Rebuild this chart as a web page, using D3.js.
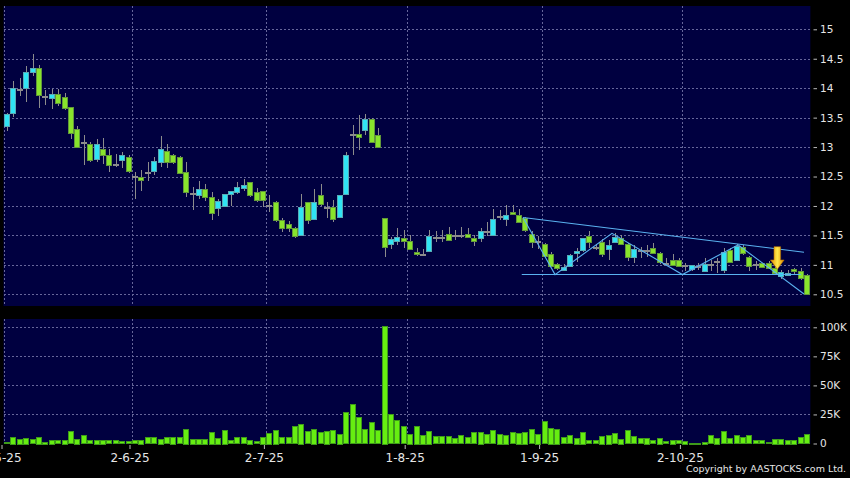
<!DOCTYPE html>
<html>
<head>
<meta charset="utf-8">
<script src="https://cdn.jsdelivr.net/npm/d3@7"></script>
<style>
  body { margin: 0; background: #000; }
  svg { display: block; }
</style>
</head>
<body>
<svg width="850" height="478"></svg>
<script>
// trading days, d-m-yy
var dates = [
  "2-5-25","6-5-25","7-5-25","8-5-25","9-5-25","12-5-25","13-5-25","14-5-25","15-5-25","16-5-25",
  "19-5-25","20-5-25","21-5-25","22-5-25","23-5-25","26-5-25","27-5-25","28-5-25","29-5-25","30-5-25",
  "2-6-25","3-6-25","4-6-25","5-6-25","6-6-25","9-6-25","10-6-25","11-6-25","12-6-25","13-6-25",
  "16-6-25","17-6-25","18-6-25","19-6-25","20-6-25","23-6-25","24-6-25","25-6-25","26-6-25","27-6-25","30-6-25",
  "2-7-25","3-7-25","4-7-25","7-7-25","8-7-25","9-7-25","10-7-25","11-7-25","14-7-25","15-7-25",
  "16-7-25","17-7-25","18-7-25","21-7-25","22-7-25","23-7-25","24-7-25","25-7-25","28-7-25","29-7-25","30-7-25","31-7-25",
  "1-8-25","4-8-25","5-8-25","6-8-25","7-8-25","8-8-25","11-8-25","12-8-25","13-8-25","14-8-25",
  "15-8-25","18-8-25","19-8-25","20-8-25","21-8-25","22-8-25","25-8-25","26-8-25","27-8-25","28-8-25","29-8-25",
  "1-9-25","2-9-25","3-9-25","4-9-25","5-9-25","8-9-25","9-9-25","10-9-25","11-9-25","12-9-25",
  "15-9-25","16-9-25","17-9-25","18-9-25","19-9-25","22-9-25","23-9-25","24-9-25","25-9-25","26-9-25","29-9-25","30-9-25",
  "2-10-25","3-10-25","6-10-25","8-10-25","9-10-25","10-10-25","13-10-25","14-10-25","15-10-25","16-10-25",
  "17-10-25","20-10-25","21-10-25","22-10-25","23-10-25","24-10-25","27-10-25","28-10-25","30-10-25","31-10-25"];

var open = [13.35,13.57,13.99,14.00,14.28,14.35,13.87,13.83,13.90,13.85,
  13.68,13.30,13.08,13.06,12.79,12.97,12.86,12.72,12.77,12.84,
  12.51,12.50,12.57,12.60,12.75,12.94,12.86,12.84,12.57,12.22,
  12.18,12.28,12.15,11.96,11.99,12.20,12.24,12.30,12.40,12.23,
  12.25,12.02,12.07,11.76,11.69,11.63,11.52,12.06,11.77,12.18,
  11.98,11.99,11.81,12.20,13.23,13.23,13.29,13.48,13.21,11.79,
  11.35,11.40,11.46,11.41,11.22,11.18,11.24,11.47,11.48,11.53,
  11.50,11.51,11.52,11.46,11.45,11.57,11.51,11.83,11.78,11.90,
  11.85,11.80,11.53,11.41,11.36,11.19,11.02,10.92,10.98,11.20,
  11.25,11.49,11.31,11.39,11.27,11.38,11.45,11.35,11.14,11.25,
  11.26,11.28,11.20,11.04,11.09,11.09,10.99,10.92,10.98,10.90,
  11.01,11.06,10.90,11.25,11.09,11.31,11.14,11.01,11.04,11.04,
  10.95,10.81,10.83,10.93,10.89,10.83];

var high = [13.58,14.12,14.18,14.37,14.58,14.39,13.97,13.99,13.98,13.91,
  13.68,13.35,13.21,13.08,13.13,13.15,12.96,12.89,12.91,12.87,
  12.57,12.61,12.74,12.84,13.19,13.05,12.88,12.85,12.74,12.33,
  12.42,12.37,12.24,12.11,12.21,12.26,12.41,12.46,12.41,12.30,
  12.25,12.19,12.08,11.79,11.75,11.65,12.20,12.07,12.28,12.37,
  12.07,12.10,12.19,12.92,13.38,13.55,13.56,13.49,13.33,11.79,
  11.47,11.62,11.59,11.51,11.29,11.27,11.59,11.57,11.59,11.65,
  11.59,11.64,11.62,11.50,11.63,11.73,11.95,11.94,12.02,12.02,
  11.95,11.81,11.57,11.49,11.37,11.22,11.03,11.01,11.18,11.28,
  11.46,11.57,11.36,11.44,11.42,11.54,11.51,11.37,11.34,11.31,
  11.33,11.37,11.21,11.12,11.19,11.11,11.03,11.00,11.03,11.11,
  11.08,11.11,11.28,11.28,11.35,11.33,11.15,11.06,11.04,11.06,
  10.97,10.91,10.91,10.94,10.94,10.85];

var low = [13.28,13.51,13.86,13.76,14.20,13.67,13.72,13.64,13.70,13.63,
  13.13,12.98,12.69,12.75,12.75,12.71,12.57,12.67,12.64,12.56,
  12.12,12.26,12.43,12.53,12.67,12.64,12.71,12.56,12.15,11.93,
  12.12,12.09,11.76,11.83,11.98,12.00,12.20,12.26,12.15,12.06,
  11.98,11.90,11.72,11.56,11.56,11.45,11.51,11.69,11.76,12.00,
  11.79,11.73,11.79,12.19,12.87,12.95,13.20,13.08,13.00,11.14,
  11.27,11.34,11.28,11.26,11.15,11.15,11.22,11.39,11.39,11.41,
  11.42,11.45,11.45,11.32,11.39,11.49,11.50,11.76,11.66,11.84,
  11.72,11.56,11.28,11.27,11.15,10.96,10.92,10.90,10.97,11.05,
  11.22,11.28,11.25,11.14,11.08,11.37,11.34,11.06,11.03,11.11,
  11.14,11.19,11.02,11.00,11.00,10.98,10.89,10.90,10.91,10.89,
  10.89,10.86,10.87,11.03,11.08,11.17,10.89,10.91,10.97,10.95,
  10.86,10.76,10.81,10.83,10.75,10.50];

var close = [13.56,14.00,13.99,14.27,14.35,13.89,13.87,13.90,13.74,13.66,
  13.23,13.00,13.08,12.79,13.05,12.87,12.69,12.72,12.86,12.60,
  12.51,12.45,12.57,12.77,12.97,12.75,12.74,12.57,12.23,12.22,
  12.28,12.15,11.88,12.08,12.20,12.25,12.32,12.35,12.18,12.10,
  12.09,12.02,11.76,11.63,11.63,11.50,11.99,11.75,12.06,12.03,
  11.98,11.79,12.18,12.87,13.23,13.18,13.48,13.09,13.00,11.30,
  11.44,11.47,11.41,11.28,11.18,11.18,11.49,11.47,11.48,11.43,
  11.50,11.51,11.47,11.41,11.57,11.57,11.78,11.83,11.85,11.86,
  11.73,11.59,11.39,11.41,11.16,10.98,10.95,10.97,11.17,11.24,
  11.45,11.39,11.31,11.18,11.34,11.47,11.35,11.13,11.27,11.25,
  11.26,11.20,11.04,11.04,11.01,10.99,10.99,10.99,10.98,11.02,
  11.01,11.06,11.21,11.04,11.32,11.20,10.99,11.01,10.98,10.96,
  10.87,10.88,10.87,10.89,10.77,10.51];

var volume = [1000,5700,4000,4900,3700,6000,1700,3400,2900,3400,
  10600,4000,7200,2600,3400,3200,2900,2600,2000,2000,
  2600,3200,5200,5200,4000,5200,5700,5200,12900,4300,
  4300,4300,10000,4900,12000,2600,5500,5500,3400,2000,
  5700,9200,12000,5200,5200,15000,17200,10600,12900,9500,
  10900,11200,8600,27000,33900,22400,12400,18100,11500,101400,
  25300,20100,14700,8600,15200,7500,10900,6300,6300,6300,
  4600,6900,5500,9500,10000,8000,11200,8600,7500,9500,
  9200,10000,12400,8600,19300,13500,12900,5500,7200,4900,
  10000,2900,2900,6600,7500,8900,4000,11200,6300,4600,
  4900,2900,4900,2000,3400,2600,2300,600,300,1400,
  6900,4900,10600,4600,6900,5500,6900,2900,2600,1100,
  4000,4000,3200,3400,5500,7800];

var dateTicks = ["2-5-25","2-6-25","2-7-25","1-8-25","1-9-25","2-10-25"];
var priceTicks = [10.5, 11, 11.5, 12, 12.5, 13, 13.5, 14, 14.5, 15];
var volumeTicks = [0, 25000, 50000, 75000, 100000];

// drawn annotations: [bar index, price]
var zigzag = [[80.6, 11.805], [85.6, 10.835], [94.5, 11.536], [105.5, 10.835], [114.2, 11.34], [124.5, 10.506]];
var upperLine = [[80.6, 11.805], [124.5, 11.214]];
var supportLine = [[80.4, 10.835], [124.0, 10.835]];
var arrowIdx = 120;

var svg = d3.select("svg");
var n = dates.length;
var left = 4, right = 810.4;
var pTop = 6, pBottom = 306, vTop = 319, vBottom = 443.5;

var x = d3.scaleLinear().domain([0, n]).range([left, right]);
var cx = function(i) { return x(i) + 3; };

var yP = d3.scaleLinear().domain([10.5, 15]).range([294.3, 29.3]);
var yV = d3.scaleLinear().domain([0, 100000]).range([vBottom, 327.3]);

var gridColor = "#66669a", textColor = "#e6e6e6";
var font = "DejaVu Sans, Verdana, sans-serif";

svg.append("rect").attr("width", 850).attr("height", 478).attr("fill", "#000");
svg.append("rect").attr("x", left - 0.5).attr("y", pTop).attr("width", right - left + 0.5).attr("height", pBottom - pTop).attr("fill", "#000040");
svg.append("rect").attr("x", left - 0.5).attr("y", vTop).attr("width", right - left + 0.5).attr("height", vBottom - vTop + 0.5).attr("fill", "#000040");

var tickIdx = dateTicks.map(function(d) { return dates.indexOf(d); });

// grid
var grid = svg.append("g").attr("stroke", gridColor).attr("stroke-dasharray", "2,2").attr("shape-rendering", "crispEdges");
grid.selectAll(".hp").data(priceTicks).enter().append("line")
    .attr("x1", left).attr("x2", right)
    .attr("y1", function(d) { return Math.round(yP(d)) + 0.5; })
    .attr("y2", function(d) { return Math.round(yP(d)) + 0.5; });
grid.selectAll(".hv").data(volumeTicks.slice(1)).enter().append("line")
    .attr("x1", left).attr("x2", right)
    .attr("y1", function(d) { return Math.round(yV(d)) + 0.5; })
    .attr("y2", function(d) { return Math.round(yV(d)) + 0.5; });
grid.selectAll(".vp").data(tickIdx).enter().append("line")
    .attr("x1", function(d) { return Math.round(x(d)) + 0.5; })
    .attr("x2", function(d) { return Math.round(x(d)) + 0.5; })
    .attr("y1", pTop).attr("y2", pBottom);
grid.selectAll(".vv").data(tickIdx).enter().append("line")
    .attr("x1", function(d) { return Math.round(x(d)) + 0.5; })
    .attr("x2", function(d) { return Math.round(x(d)) + 0.5; })
    .attr("y1", vTop).attr("y2", vBottom);

// candles
var bars = d3.range(n);
var candles = svg.append("g").attr("shape-rendering", "crispEdges");
candles.selectAll("line").data(bars).enter().append("line")
    .attr("x1", function(i) { return Math.round(cx(i)) + 0.5; })
    .attr("x2", function(i) { return Math.round(cx(i)) + 0.5; })
    .attr("y1", function(i) { return yP(high[i]); })
    .attr("y2", function(i) { return yP(low[i]); })
    .attr("stroke", "#8c8c8c");

candles.selectAll("rect").data(bars).enter().append("rect")
    .attr("x", function(i) { return Math.round(x(i)) + 0.5; })
    .attr("width", 5)
    .attr("y", function(i) { return Math.round(yP(Math.max(open[i], close[i]))) + 0.5; })
    .attr("height", function(i) { return Math.max(1, Math.round(yP(Math.min(open[i], close[i])) - yP(Math.max(open[i], close[i])))); })
    .attr("fill", function(i) { return close[i] > open[i] ? "#30e4f4" : close[i] < open[i] ? "#88e42c" : "#9aa488"; })
    .attr("stroke", function(i) { return close[i] > open[i] ? "#5aaab4" : close[i] < open[i] ? "#62983a" : "#8c8c8c"; });

// trend lines
var line = d3.line().x(function(d) { return x(d[0] + 0.5); }).y(function(d) { return yP(d[1]); });
[zigzag, upperLine, supportLine].forEach(function(pts) {
  svg.append("path").attr("d", line(pts)).attr("fill", "none").attr("stroke", "#5ab2f0").attr("stroke-width", 1.1);
});

// arrow
var defs = svg.append("defs");
var grad = defs.append("linearGradient").attr("id", "arrowGrad").attr("x1", "0%").attr("x2", "100%");
grad.append("stop").attr("offset", "0%").attr("stop-color", "#e08800");
grad.append("stop").attr("offset", "50%").attr("stop-color", "#ffe84a");
grad.append("stop").attr("offset", "100%").attr("stop-color", "#e08800");
svg.append("path")
    .attr("transform", "translate(" + (cx(arrowIdx) + 2.3) + "," + (yP(high[arrowIdx]) + 2.7) + ")")
    .attr("d", "M0,0 L-6.8,-9.3 L-3.3,-9.3 L-3.3,-22.6 L3.3,-22.6 L3.3,-9.3 L6.8,-9.3 Z")
    .attr("fill", "url(#arrowGrad)")
    .attr("stroke", "#b87000")
    .attr("stroke-width", 0.6);

// volume
svg.append("g").attr("shape-rendering", "crispEdges")
  .selectAll("rect").data(bars).enter().append("rect")
    .attr("x", function(i) { return Math.round(x(i)) + 0.5; })
    .attr("width", 5)
    .attr("y", function(i) { return Math.round(yV(volume[i])) + 0.5; })
    .attr("height", function(i) { return Math.max(0.5, Math.round(vBottom - yV(volume[i])) - 0.5); })
    .attr("fill", "#66ee11")
    .attr("stroke", "#3e9a1a");

// axes
function styleAxis(g, size) {
  g.select(".domain").remove();
  g.selectAll(".tick line").attr("stroke", "#bbbbbb");
  g.selectAll(".tick text").attr("fill", textColor).attr("font-family", font).attr("font-size", size);
}

svg.append("g")
    .attr("transform", "translate(813.5,0)")
    .call(d3.axisRight(yP).tickValues(priceTicks).tickSize(3.5).tickPadding(3).tickFormat(d3.format("")))
    .call(styleAxis, "10.5px");

svg.append("g")
    .attr("transform", "translate(813.5,0)")
    .call(d3.axisRight(yV).tickValues(volumeTicks).tickSize(3.5).tickPadding(3)
      .tickFormat(function(d) { return d === 0 ? "0" : (d / 1000) + "K"; }))
    .call(styleAxis, "10.5px");

var xTick = x.copy().range([left - 2.5, right - 2.5]);
svg.append("g")
    .attr("transform", "translate(0,445)")
    .call(d3.axisBottom(xTick).tickValues(tickIdx).tickSize(4).tickPadding(4)
      .tickFormat(function(i) { return dates[i]; }))
    .call(styleAxis, "12px");

svg.append("text")
    .attr("x", 846).attr("y", 471.5)
    .attr("text-anchor", "end")
    .attr("fill", textColor)
    .attr("font-family", font)
    .attr("font-size", "9.5px")
    .text("Copyright by AASTOCKS.com Ltd.");
</script>
</body>
</html>
